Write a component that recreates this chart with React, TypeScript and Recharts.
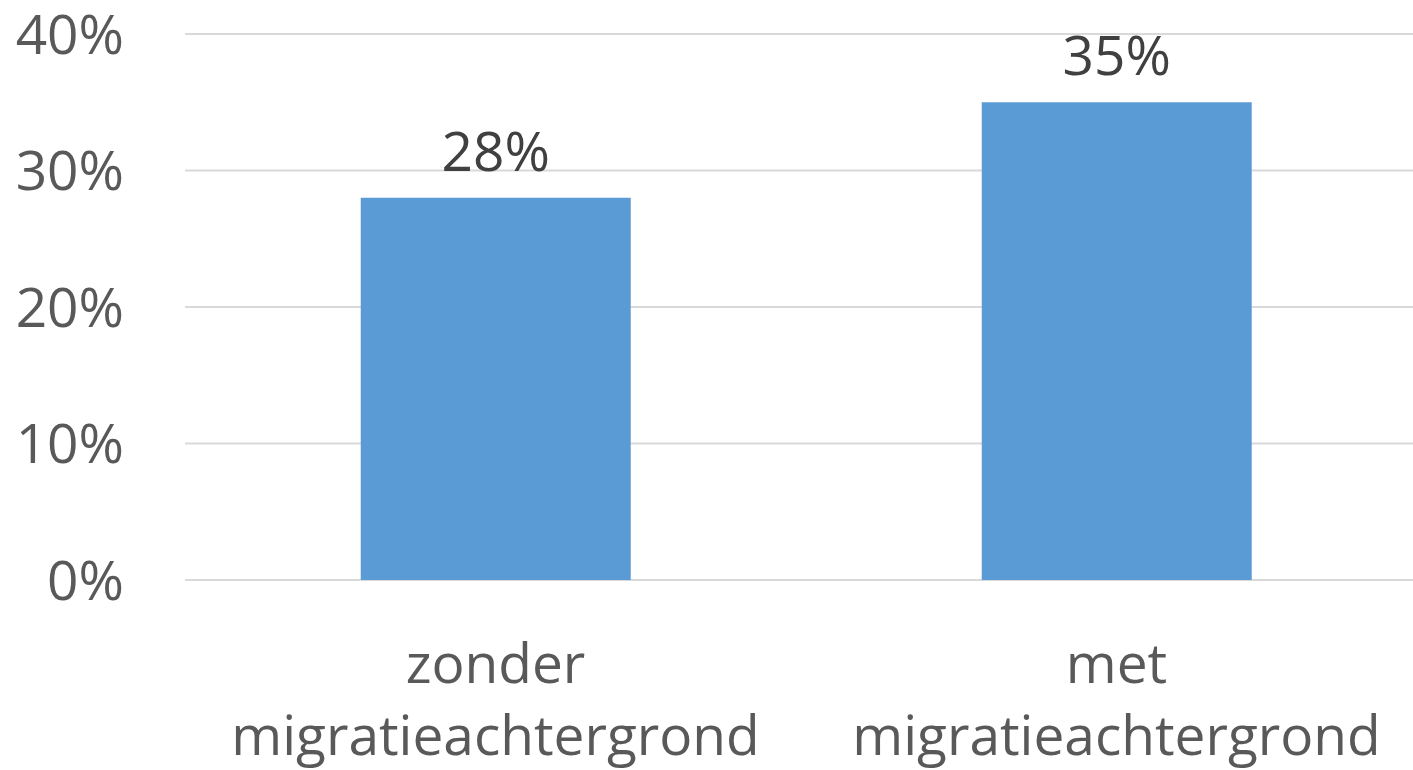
import React from 'react';
import { BarChart, Bar, XAxis, YAxis, CartesianGrid, LabelList } from 'recharts';

const categories = ['zonder migratieachtergrond', 'met migratieachtergrond'];
const categoryLines = [['zonder', 'migratieachtergrond'], ['met', 'migratieachtergrond']];
const values = [28, 35];
const yTicks = [0, 10, 20, 30, 40];

const data = categories.map((c, i) => ({ name: c, value: values[i], lines: categoryLines[i] }));

const FONT = '"Open Sans", "Noto Sans", sans-serif';

const XTick = (props: any) => {
  const { x, y, index } = props;
  const lines = categoryLines[index] || [];
  return (
    <g>
      <text x={x} y={y} textAnchor="middle" fill="#595959" fontSize={55} fontFamily={FONT}>
        {lines.map((l: string, i: number) => (
          <tspan key={i} x={x} y={y + 103 + i * 72}>{l}</tspan>
        ))}
      </text>
    </g>
  );
};

export default function App() {
  return (
    <div style={{ position: 'absolute', left: 0, top: 0, width: 1413, height: 770, overflow: 'hidden', background: '#fff' }}>
      <BarChart
        width={1440}
        height={770}
        data={data}
        margin={{ top: 34, right: 13, left: 0, bottom: 0 }}
        barCategoryGap="28.3%"
      >
        <CartesianGrid vertical={false} stroke="#d9d9d9" strokeWidth={2} />
        <XAxis
          dataKey="name"
          height={190}
          axisLine={false}
          tickLine={false}
          tickSize={0}
          tickMargin={0}
          interval={0}
          tick={<XTick />}
        />
        <YAxis
          width={185}
          domain={[0, 40]}
          ticks={yTicks}
          tickFormatter={(v: number) => `${v}%`}
          axisLine={false}
          tickLine={false}
          tickSize={0}
          tickMargin={61}
          tick={{ fill: '#595959', fontSize: 55, fontFamily: FONT }}
        />
        <Bar dataKey="value" fill="#5B9BD5" isAnimationActive={false}>
          <LabelList
            dataKey="value"
            position="top"
            offset={27}
            formatter={(v: any) => `${v}%`}
            fill="#404040"
            fontSize={55}
            fontFamily={FONT}
          />
        </Bar>
      </BarChart>
    </div>
  );
}
